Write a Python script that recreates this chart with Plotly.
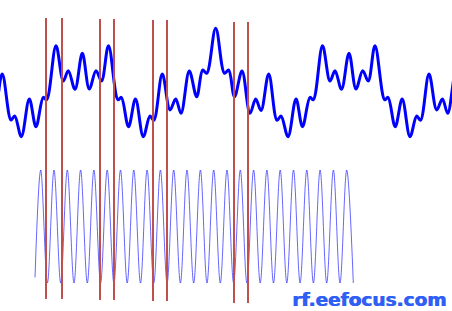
import plotly.graph_objects as go

# Composite signal: turning points (time, level)
sig_t = [-11, -5.3, 2.2, 11, 14.7, 21.3, 29.3, 36, 43.3, 46.6,
         56, 63.3, 68.3, 75, 82.3, 89.3, 96, 101.5, 108.5, 118,
         121.3, 128.5, 135.5, 143.3, 150, 153.8, 162.3, 170, 175.7, 181,
         189.3, 196.7, 202.7, 206.7, 215.7, 224.5, 228.6, 234.5, 242, 250,
         255.7, 261, 268.7, 277, 281, 288, 296, 302.5, 310, 313.3,
         322.5, 330, 335, 341.5, 349, 356, 362.7, 368.2, 375, 384.7,
         388, 395.2, 402.2, 410, 416.7, 420.5, 429, 436.7, 442.4, 447.7,
         456, 462.5]
sig_v = [-8, -19.5, 17, -29, -25, -45.7, -8, -35.7, -6.3, -8.8,
         45.3, 10, 20.3, 1.7, 37.7, 2, 20.3, 10, 45.3, -8.8,
         -6.3, -35.7, -8, -45.7, -25, -29.3, 17, -19, -8, -22.3,
         20, -5.7, 21, 17.7, 62.7, 17.7, 21, -5.7, 20, -22.3,
         -8, -19.5, 17, -29.3, -25, -45.7, -8, -35.7, -6.3, -8.8,
         45.3, 10, 20.3, 1.7, 37.7, 2, 20.3, 10, 45.3, -8.8,
         -6.3, -35.7, -8, -45.7, -25, -29.3, 17, -19, -8, -22.3,
         20, -5.7]

# Carrier sine: turning points (time, level)
car_t = [35, 40.7, 47.4, 54.0, 60.7, 67.3, 74.0, 80.6, 87.3, 93.9,
         100.6, 107.2, 113.9, 120.5, 127.2, 133.8, 140.5, 147.1, 153.8, 160.4,
         167.1, 173.7, 180.4, 187.0, 193.7, 200.4, 207.0, 213.7, 220.3, 227.0,
         233.6, 240.3, 246.9, 253.6, 260.2, 266.9, 273.5, 280.2, 286.8, 293.5,
         300.1, 306.8, 313.4, 320.1, 326.7, 333.4, 340.0, 346.7, 353.3]
car_v = [-186.4, -79, -192, -79, -192, -79, -192, -79, -192, -79,
         -192, -79, -192, -79, -192, -79, -192, -79, -192, -79,
         -192, -79, -192, -79, -192, -79, -192, -79, -192, -79,
         -192, -79, -192, -79, -192, -79, -192, -79, -192, -79,
         -192, -79, -192, -79, -192, -79, -192, -79, -192]

# Sampling markers (red vertical lines)
mark_t = [46, 62, 100, 114, 153, 167, 234, 248]
mark_top = [73, 73, 72, 72, 71, 71, 69, 69]
mark_bot = [-208, -208, -209, -209, -210, -210, -212, -212]

watermark = "rf.eefocus.com"

fig = go.Figure()
fig.add_trace(go.Scatter(x=car_t, y=car_v, mode="lines",
                         line=dict(color="rgba(20,20,255,0.65)", width=1, shape="spline", smoothing=1),
                         hoverinfo="skip"))
fig.add_trace(go.Scatter(x=sig_t, y=sig_v, mode="lines",
                         line=dict(color="#0000ff", width=3, shape="spline", smoothing=1),
                         hoverinfo="skip"))

mx, my = [], []
for t, a, b in zip(mark_t, mark_top, mark_bot):
    mx += [t, t, None]
    my += [a, b, None]
fig.add_trace(go.Scatter(x=mx, y=my, mode="lines",
                         line=dict(color="#c0504d", width=2), hoverinfo="skip"))

fig.add_annotation(text="<b>" + watermark + "</b>", xref="paper", yref="paper",
                   x=448 / 452, y=1 - 299.5 / 311, xanchor="right", yanchor="middle",
                   showarrow=False,
                   font=dict(family="DejaVu Sans", size=18.5, color="#2f5ff5",
                             shadow="0.8px 0 0 #2f5ff5"))

fig.update_layout(width=452, height=311, margin=dict(l=0, r=0, t=0, b=0),
                  paper_bgcolor="white", plot_bgcolor="white", showlegend=False,
                  xaxis=dict(range=[0, 452], visible=False),
                  yaxis=dict(range=[-220, 91], visible=False))

fig.write_html("out.html", config={"displayModeBar": False})
